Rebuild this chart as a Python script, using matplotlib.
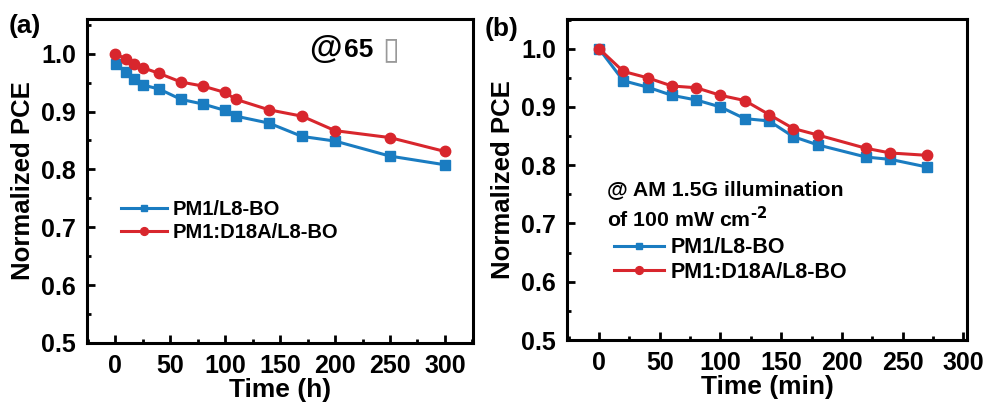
import matplotlib
matplotlib.use('Agg')
import matplotlib.pyplot as plt
from matplotlib.ticker import MultipleLocator

plt.rcParams['font.family'] = ['Liberation Sans', 'DejaVu Sans']
plt.rcParams['font.weight'] = 'bold'
plt.rcParams['mathtext.default'] = 'bf'

# panel (a): thermal aging at 65 C
time_a_red = [0, 10, 17, 25, 40, 60, 80, 100, 110, 140, 170, 200, 250, 300]
pce_a_red = [1.0, 0.991, 0.983, 0.976, 0.966, 0.951, 0.944, 0.933, 0.921, 0.903, 0.892, 0.867, 0.855, 0.831]
time_a_blue = [0, 1, 10, 17, 25, 40, 60, 80, 100, 110, 140, 170, 200, 250, 300]
pce_a_blue = [1.0, 0.982, 0.968, 0.957, 0.946, 0.939, 0.921, 0.913, 0.902, 0.892, 0.880, 0.857, 0.849, 0.823, 0.808]

# panel (b): light soaking
time_b = [0, 20, 40, 60, 80, 100, 120, 140, 160, 180, 220, 240, 270]
pce_b_red = [1.0, 0.961, 0.950, 0.936, 0.933, 0.920, 0.911, 0.887, 0.863, 0.852, 0.829, 0.821, 0.817]
pce_b_blue = [1.0, 0.945, 0.934, 0.920, 0.912, 0.900, 0.880, 0.876, 0.849, 0.835, 0.814, 0.810, 0.797]

labels = ['PM1/L8-BO', 'PM1:D18A/L8-BO']
blue = '#1a7cc1'
red = '#d8262d'

fig = plt.figure(figsize=(9.9, 4.03), dpi=100)
ax1 = fig.add_axes([0.0879, 0.1489, 0.3899, 0.804])
ax2 = fig.add_axes([0.5727, 0.1563, 0.4040, 0.7966])


def style(ax, xlim, ylim, xlabel):
    ax.set_xlim(*xlim)
    ax.set_ylim(*ylim)
    ax.xaxis.set_major_locator(MultipleLocator(50))
    ax.xaxis.set_minor_locator(MultipleLocator(25))
    ax.yaxis.set_major_locator(MultipleLocator(0.1))
    ax.yaxis.set_minor_locator(MultipleLocator(0.05))
    ax.yaxis.set_major_formatter(plt.matplotlib.ticker.FormatStrFormatter('%.1f'))
    ax.tick_params(which='both', direction='in', top=False, right=False,
                   labelsize=18, width=2)
    ax.tick_params(which='major', length=6, pad=8)
    ax.tick_params(which='minor', length=3)
    for s in ax.spines.values():
        s.set_linewidth(2.2)
    ax.set_xlabel(xlabel, fontsize=19, fontweight='bold', labelpad=0)
    ax.set_ylabel('Normalized PCE', fontsize=18.5, fontweight='bold', labelpad=4)


ax1.plot(time_a_blue, pce_a_blue, '-s', color=blue, lw=2.2, ms=6.5, label=labels[0],
         markevery=list(range(1, len(time_a_blue))))
ax1.plot(time_a_red, pce_a_red, '-o', color=red, lw=2.2, ms=7.5, label=labels[1])
style(ax1, (-25.5, 325.5), (0.5, 1.06), 'Time (h)')
ax1.legend(loc='upper left', bbox_to_anchor=(0.04, 0.497), frameon=False,
           fontsize=14.5, handlelength=2.3, handletextpad=0.3, labelspacing=0.2,
           markerscale=0.75)
ax1.text(0.575, 0.905, '@', transform=ax1.transAxes, fontsize=24, fontweight='heavy',
         va='center')
ax1.text(0.665, 0.905, '65', transform=ax1.transAxes, fontsize=19, fontweight='bold',
         va='center')
ax1.text(0.765, 0.905, '\u25af', transform=ax1.transAxes, fontsize=22,
         va='center', color='#999999', family='DejaVu Sans', fontweight='normal')

ax2.plot(time_b, pce_b_blue, '-s', color=blue, lw=2.2, ms=6.5, label=labels[0])
ax2.plot(time_b, pce_b_red, '-o', color=red, lw=2.2, ms=7.5, label=labels[1])
style(ax2, (-26.4, 303), (0.5, 1.051), 'Time (min)')
ax2.legend(loc='upper left', bbox_to_anchor=(0.07, 0.38), frameon=False,
           fontsize=15.5, handlelength=2.3, handletextpad=0.3, labelspacing=0.15,
           markerscale=0.75)
ax2.text(0.1, 0.468, '@ AM 1.5G illumination', transform=ax2.transAxes,
         fontsize=15.3, fontweight='bold', va='center')
ax2.text(0.1, 0.378, r'of 100 mW cm$^{\text{-}2}$', transform=ax2.transAxes,
         fontsize=15.3, fontweight='bold', va='center')

fig.text(0.009, 0.935, '(a)', fontsize=19, fontweight='bold', va='center')
fig.text(0.49, 0.928, '(b)', fontsize=19, fontweight='bold', va='center')

fig.savefig('out.png', dpi=100)
